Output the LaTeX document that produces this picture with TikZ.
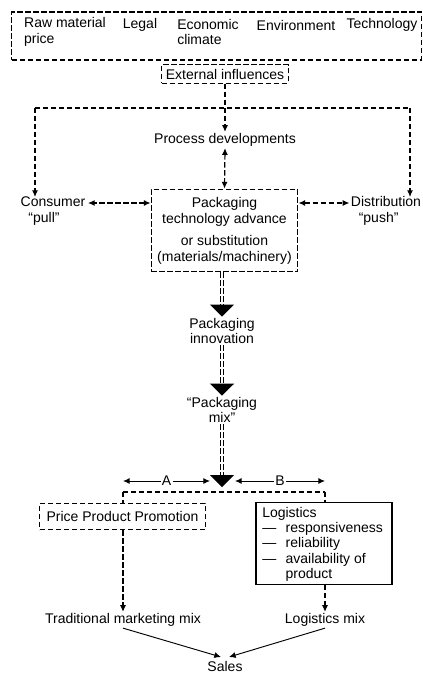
\documentclass[tikz,border=0pt]{standalone}
\usepackage{fontspec}
\setmainfont{Liberation Sans}
\usetikzlibrary{arrows.meta}

\begin{document}
\begin{tikzpicture}[x=0.75pt, y=-0.75pt,
    every node/.style={font=\fontsize{10.5}{11.5}\selectfont, inner sep=1pt, align=center},
    dline/.style={line width=0.9pt, dash pattern=on 4pt off 2pt},
    dashbox/.style={draw, dline},
    arrow/.style={-{Latex[length=5pt,width=4.5pt]}, dline},
    biarrow/.style={{Latex[length=5pt,width=4.5pt]}-{Latex[length=5pt,width=4.5pt]}, dline},
    solidbi/.style={{Latex[length=5pt,width=4.5pt]}-{Latex[length=5pt,width=4.5pt]}, line width=0.7pt},
    solidarrow/.style={-{Latex[length=5pt,width=4.5pt]}, line width=0.7pt},
    bigarrow/.style={-{Triangle[length=9pt,width=18pt]}, line width=0.7pt,
        dash pattern=on 4pt off 2pt, double, double distance=2pt}
]
\useasboundingbox (0,0) rectangle (423,674);
%% ============================================================
%% TOP: external influences
%% ============================================================
\node[dashbox, minimum width=307pt, minimum height=36pt] (infl) at (216.5,36) {};
\node[align=left] (raw)  at (65,32)  {Raw material\\price};
\node             (leg)  at (140,25) {Legal};
\node[align=left] (eco)  at (208,32) {Economic\\climate};
\node             (env)  at (296,25) {Environment};
\node             (tech) at (382,25) {Technology};
\node[dashbox, inner sep=3pt] (ext) at (225,74) {External influences};
\coordinate (split) at (225,108);
\coordinate (splitL) at (35,108);
\coordinate (splitR) at (410,108);
%% ============================================================
%% MIDDLE: technology advance and its drivers
%% ============================================================
\node (proc) at (225,140) {Process developments};
\node[dashbox, minimum width=110pt, minimum height=62pt] (tech) at (224.5,230.5) {};
\node at (224.5,212) {Packaging\\technology advance};
\node at (224.5,250) {or substitution\\(materials/machinery)};
\node[align=left] (cons) at (53,211) {Consumer\\\ \ ``pull''};
\node[align=left] (dist) at (386,211) {Distribution\\\ \ ``push''};
\coordinate (consT) at (35,197);
\coordinate (distT) at (410,197);
\draw[dline] (ext.south) -- (split);
\draw[dline] (splitL) -- (splitR);
\draw[arrow] (split) -- (proc.north);
\draw[arrow] (splitL) -- (consT);
\draw[arrow] (splitR) -- (distT);
\draw[biarrow] (proc.south) -- (tech.north);
\draw[biarrow] (tech.west |- 0,203) -- (88,203);
\draw[biarrow] (tech.east |- 0,203) -- (dist.west |- 0,203);
%% ============================================================
%% innovation and mix
%% ============================================================
\node (innov) at (222,331) {Packaging\\innovation};
\node (mix) at (222,410) {``Packaging\\mix''};
\coordinate (hub) at (222,487);
\draw[bigarrow] (tech.south -| 222,0) -- (innov.north);
\draw[bigarrow] (innov.south) -- (mix.north);
\draw[bigarrow] (mix.south) -- (hub);
\coordinate (aL) at (123,481);
\coordinate (aR) at (210,481);
\coordinate (bL) at (235,481);
\coordinate (bR) at (325,481);
\draw[solidbi] (aL) -- node[fill=white, inner sep=1pt] {A} (aR);
\draw[solidbi] (bL) -- node[fill=white, inner sep=1pt] {B} (bR);
\coordinate (busL) at (123,492);
\coordinate (busR) at (325,492);
\draw[dline] (busL) -- (busR);
%% ============================================================
%% BOTTOM: the two mixes
%% ============================================================
\node[dashbox, minimum width=124pt, minimum height=20pt] (ppp) at (122.5,516.5) {Price Product Promotion};
\node[draw, line width=0.9pt, minimum width=102pt, minimum height=61pt, inner sep=0pt] (logi) at (324,543.5) {};
\node[anchor=north west, align=left, inner sep=0pt] (logt) at (262,506) {%
    \begin{tabular}{@{}l@{\hspace{7pt}}l@{}}
    \multicolumn{2}{@{}l}{Logistics}\\
    --- & responsiveness\\
    --- & reliability\\
    --- & availability of\\
        & product
    \end{tabular}};
\draw[dline] (busL) -- (busL |- ppp.north);
\draw[dline] (busR) -- (busR |- logi.north);
\node (trad) at (123,620) {Traditional marketing mix};
\node (lmix) at (325,620) {Logistics mix};
\draw[arrow] (ppp.south -| trad) -- (trad.north);
\draw[arrow] (logi.south -| lmix) -- (lmix.north);
\node (sales) at (225,666) {Sales};
\coordinate (salesL) at (221,657);
\coordinate (salesR) at (229,657);
\draw[solidarrow] (trad.south) -- (salesL);
\draw[solidarrow] (lmix.south) -- (salesR);
\end{tikzpicture}
\end{document}
